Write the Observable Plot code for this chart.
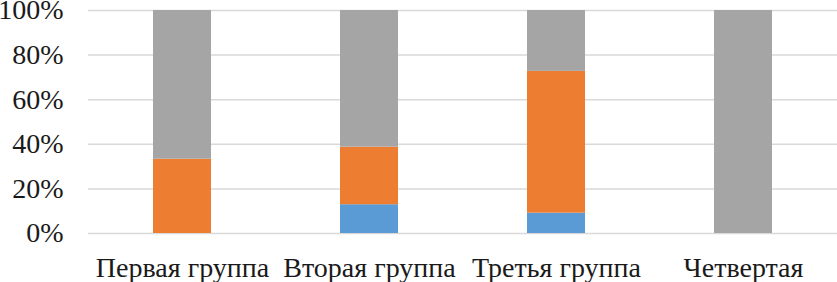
<!DOCTYPE html>
<html>
<head>
<meta charset="utf-8">
<script src="https://cdn.jsdelivr.net/npm/d3@7"></script>
<script src="https://cdn.jsdelivr.net/npm/@observablehq/plot@0.6"></script>
<style>
  html, body { margin: 0; padding: 0; background: #fff; overflow: hidden; }
</style>
</head>
<body>
<div id="chart"></div>
<script>
const categories = ["Первая группа", "Вторая группа", "Третья группа", "Четвертая"];
const seriesNames = ["Ряд 1", "Ряд 2", "Ряд 3"];
const seriesColors = ["#5B9BD5", "#ED7D31", "#A5A5A5"];
const blueValues = [0, 12.9, 9.1, 0];
const orangeValues = [33.3, 25.8, 63.6, 0];
const grayValues = [66.7, 61.3, 27.3, 100];
const yTicks = [0, 20, 40, 60, 80, 100];

const seriesValues = [blueValues, orangeValues, grayValues];
const rows = [];
seriesNames.forEach((s, si) => {
  categories.forEach((c, ci) => {
    rows.push({category: c, series: s, value: seriesValues[si][ci]});
  });
});

const serif = "Times New Roman, Liberation Serif, DejaVu Serif, Times, serif";
const chart = Plot.plot({
  width: 837,
  height: 282,
  marginTop: 10,
  marginBottom: 49,
  marginLeft: 88,
  marginRight: 0,
  style: {fontFamily: serif, fontSize: "28px", color: "#1a1a1a", background: "#fff", overflow: "visible"},
  x: {domain: categories, paddingInner: 0.69, paddingOuter: 0.345, label: null, tickSize: 0, tickPadding: 24},
  y: {domain: [0, 100], ticks: yTicks, tickFormat: d => d + "%", label: null, tickSize: 0, tickPadding: 25},
  color: {domain: seriesNames, range: seriesColors},
  marks: [
    Plot.ruleY(yTicks, {stroke: "#d9d9d9", strokeWidth: 1.5}),
    Plot.barY(rows, Plot.stackY({x: "category", y: "value", fill: "series", order: seriesNames}))
  ]
});
chart.setAttribute("font-family", serif);
chart.setAttribute("font-size", "28");
d3.select(chart).selectAll("g").attr("font-family", serif);
d3.select(chart).selectAll("text")
  .attr("font-family", serif)
  .attr("font-size", "28")
  .style("font-family", serif)
  .style("font-size", "28px");
document.getElementById("chart").appendChild(chart);
</script>
</body>
</html>
